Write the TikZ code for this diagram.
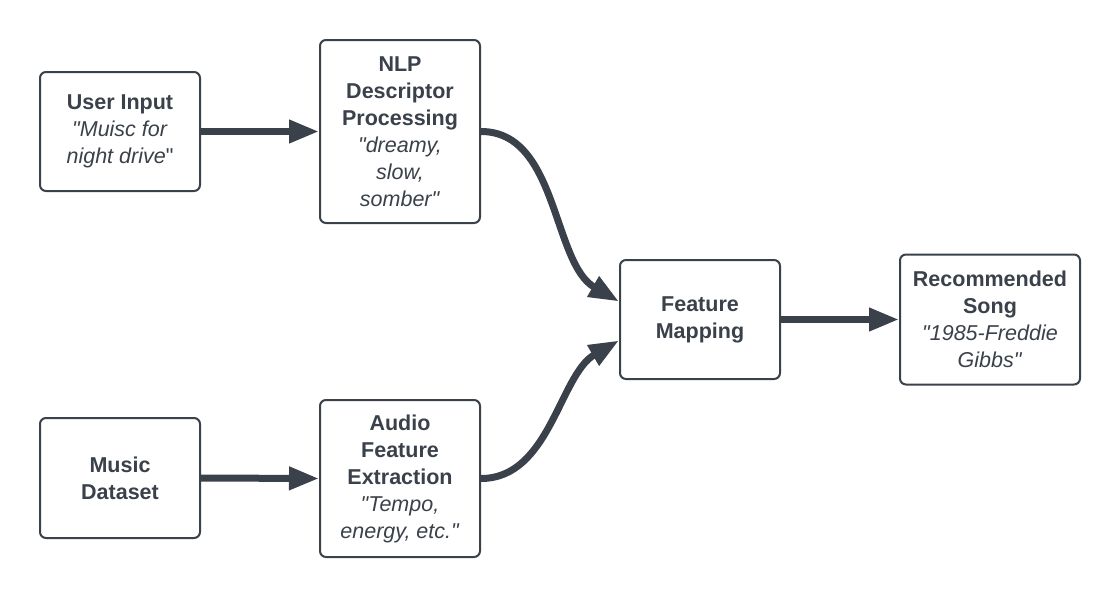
\documentclass[tikz,border=0pt]{standalone}
\usepackage{fontspec}
\setmainfont{Liberation Sans}[Ligatures=TeXOff]
\usetikzlibrary{arrows.meta}
\definecolor{ink}{HTML}{3A414A}
\begin{document}
\begin{tikzpicture}[x=1pt,y=-1pt,
  box/.style={draw=ink,line width=2pt,rounded corners=6pt,fill=white,align=center,
    text=ink,font=\fontsize{21.5}{27}\selectfont,inner sep=2pt},
  conn/.style={draw=ink,line width=7pt,-{Triangle[length=30pt,width=22pt]}}]
\useasboundingbox (0,0) rectangle (1120,597);
\node[box,minimum width=160pt,minimum height=119pt] (user) at (120,131.5)
  {\textbf{User Input}\\\textit{"Muisc for}\\\textit{night drive}"};
\node[box,minimum width=160pt,minimum height=183pt] (nlp) at (400,131.5)
  {\textbf{NLP}\\\textbf{Descriptor}\\\textbf{Processing}\\\textit{"dreamy,}\\\textit{slow,}\\\textit{somber"}};
\node[box,minimum width=160pt,minimum height=120pt] (data) at (120,478)
  {\textbf{Music}\\\textbf{Dataset}};
\node[box,minimum width=160pt,minimum height=157pt] (audio) at (400,478.5)
  {\textbf{Audio}\\\textbf{Feature}\\\textbf{Extraction}\\\textit{"Tempo,}\\\textit{energy, etc."}};
\node[box,minimum width=160pt,minimum height=119pt] (fm) at (700,319.5)
  {\textbf{Feature}\\\textbf{Mapping}};
\node[box,minimum width=180pt,minimum height=130pt] (rec) at (990,319.5)
  {\textbf{Recommended}\\\textbf{Song}\\\textit{"1985-Freddie}\\\textit{Gibbs"}};
\draw[conn] (user.east) -- (nlp.west);
\draw[conn] (data.east) -- (audio.west);
\draw[conn] (fm.east) -- (rec.west);
\draw[conn] (nlp.east) to[out=0,in=150,looseness=0.9] ([yshift=18pt]fm.west);
\draw[conn] (audio.east) to[out=0,in=210,looseness=0.9] ([yshift=-21pt]fm.west);
\end{tikzpicture}
\end{document}
